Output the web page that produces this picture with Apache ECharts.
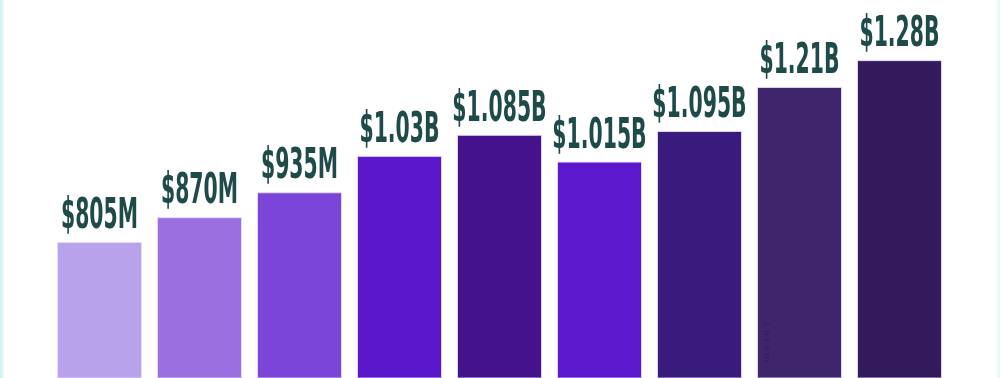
<!DOCTYPE html>
<html>
<head>
<meta charset="utf-8">
<script src="https://cdn.jsdelivr.net/npm/echarts@6/dist/echarts.min.js"></script>
<style>
html,body{margin:0;padding:0;background:#ffffff;overflow:hidden;}
#chart{width:1000px;height:378px;}
</style>
</head>
<body>
<div id="chart"></div>
<script>
// ---- data ----
var categories = ['1', '2', '3', '4', '5', '6', '7', '8', '9'];
var values = [805, 870, 935, 1030, 1085, 1015, 1095, 1210, 1280]; // millions USD
var valueLabels = ['$805M', '$870M', '$935M', '$1.03B', '$1.085B', '$1.015B', '$1.095B', '$1.21B', '$1.28B'];
// ---- styles ----
var barColors = ['#b9a2ec', '#9b6fe0', '#7a45d8', '#5a17cc', '#44138c', '#5c18cc', '#381b7c', '#3e256c', '#331a5c'];
var labelColor = '#1e4b49';
var labelFont = 'bold 42px "DejaVu Sans Condensed", "DejaVu Sans", sans-serif';
var labelGap = 13;
var labelScaleX = 0.54;

var chart = echarts.init(document.getElementById('chart'), null, {renderer: 'canvas'});

var option = {
  animation: false,
  backgroundColor: '#ffffff',
  grid: {left: 49.5, right: 50.5, top: 0, bottom: 0, containLabel: false},
  xAxis: {
    type: 'category',
    data: categories,
    show: false
  },
  yAxis: {
    type: 'value',
    min: 450,
    max: 1437,
    show: false,
    splitLine: {show: false}
  },
  graphic: [
    {
      type: 'rect',
      left: 0, top: 0,
      shape: {width: 4, height: 378},
      style: {fill: {type: 'linear', x: 0, y: 0, x2: 1, y2: 0,
        colorStops: [{offset: 0, color: '#cdeef0'}, {offset: 1, color: '#eef9fa'}]}},
      z: 10
    },
    {
      type: 'rect',
      right: 0, top: 0,
      shape: {width: 4, height: 378},
      style: {fill: {type: 'linear', x: 0, y: 0, x2: 1, y2: 0,
        colorStops: [{offset: 0, color: '#f6fcfd'}, {offset: 1, color: '#e3f5f7'}]}},
      z: 10
    }
  ],
  series: [
    {
      type: 'bar',
      data: values.map(function (v, i) {
        return {value: v, itemStyle: {color: barColors[i]}};
      }),
      barWidth: 85,
      itemStyle: {borderColor: 'rgba(232,220,250,0.9)', borderWidth: 1},
      z: 2
    },
    {
      type: 'custom',
      data: values.map(function (v, i) { return [i, v]; }),
      renderItem: function (params, api) {
        var p = api.coord([api.value(0), api.value(1)]);
        var idx = params.dataIndex;
        var children = [{
          type: 'text',
          x: p[0],
          y: p[1] - labelGap + 9,
          scaleX: labelScaleX,
          style: {
            text: valueLabels[idx],
            font: labelFont,
            fill: labelColor,
            align: 'center',
            verticalAlign: 'bottom'
          }
        }];
        if (idx === 7) {
          children.push({
            type: 'text',
            x: p[0] - 33,
            y: 322,
            rotation: -Math.PI / 2,
            style: {
              text: 'L o r e m',
              font: '9px "DejaVu Sans", sans-serif',
              fill: 'rgba(40,25,70,0.55)',
              align: 'left',
              verticalAlign: 'middle'
            }
          });
        }
        return {type: 'group', children: children};
      },
      z: 5
    }
  ]
};
chart.setOption(option);
</script>
</body>
</html>
